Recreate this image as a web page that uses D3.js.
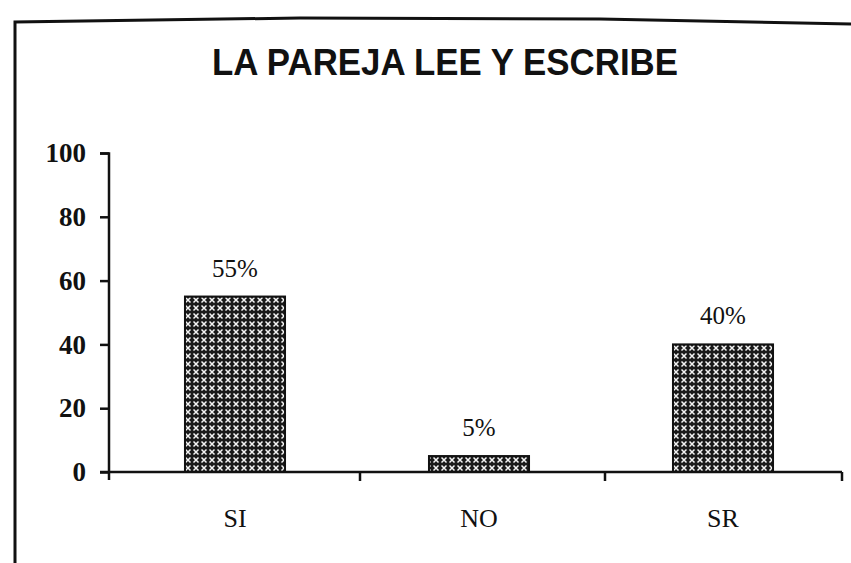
<!DOCTYPE html>
<html>
<head>
<meta charset="utf-8">
<script src="https://cdn.jsdelivr.net/npm/d3@7"></script>
<style>
  body { margin: 0; background: #fff; }
  svg { display: block; }
</style>
</head>
<body>
<script>
// Chart data
const categories = ["SI", "NO", "SR"];
const values = [55, 5, 40];
const valueLabels = ["55%", "5%", "40%"];
const yTicks = [0, 20, 40, 60, 80, 100];
const chartTitle = "LA PAREJA LEE Y ESCRIBE";

const width = 851;
const height = 563;

const svg = d3.select("body")
  .append("svg")
  .attr("width", width)
  .attr("height", height)
  .style("background", "#fff");

// pattern for bar fill: dark grid with light crosses
const defs = svg.append("defs");
const pat = defs.append("pattern")
  .attr("id", "cross")
  .attr("patternUnits", "userSpaceOnUse")
  .attr("width", 8)
  .attr("height", 8);
pat.append("rect")
  .attr("width", 8)
  .attr("height", 8)
  .attr("fill", "#1a1a1a");
pat.append("path")
  .attr("d", "M1.5,1.5 L6.5,6.5 M6.5,1.5 L1.5,6.5")
  .attr("stroke", "#f4f4f4")
  .attr("stroke-width", 1.5);

// outer frame (scan border)
svg.append("path")
  .attr("d", "M15,563 L15,22 L300,18 L600,19 L851,24")
  .attr("fill", "none")
  .attr("stroke", "#111")
  .attr("stroke-width", 3);

// title
svg.append("text")
  .attr("x", 445)
  .attr("y", 75)
  .attr("text-anchor", "middle")
  .attr("textLength", 466)
  .attr("lengthAdjust", "spacingAndGlyphs")
  .style("font-family", "'Liberation Sans Narrow', 'Liberation Sans', Arial, sans-serif")
  .style("font-weight", "bold")
  .style("font-size", "37px")
  .style("fill", "#111")
  .text(chartTitle);

// scales
const xScale = d3.scaleBand()
  .domain(categories)
  .range([113, 845])
  .paddingInner(0.59)
  .paddingOuter(0.295);

const yScale = d3.scaleLinear()
  .domain([0, 100])
  .range([472, 153]);

// y axis
const yAxis = d3.axisLeft(yScale)
  .tickValues(yTicks)
  .tickSize(9)
  .tickPadding(14);

const yG = svg.append("g")
  .attr("transform", "translate(109,0)")
  .call(yAxis);

yG.select(".domain")
  .attr("d", "M-9,153.5H0V480")
  .attr("stroke", "#111")
  .attr("stroke-width", 2.5);

yG.selectAll(".tick line")
  .attr("stroke", "#111")
  .attr("stroke-width", 2.5);

yG.selectAll(".tick text")
  .style("font-family", "'Liberation Serif', 'Times New Roman', serif")
  .style("font-weight", "bold")
  .style("font-size", "27px")
  .style("fill", "#111");

// x axis baseline with boundary ticks
const bandEdges = [109, 360, 605, 842];
svg.append("line")
  .attr("x1", 100)
  .attr("x2", 842)
  .attr("y1", yScale(0))
  .attr("y2", yScale(0))
  .attr("stroke", "#111")
  .attr("stroke-width", 2.5);

svg.selectAll(".xtick")
  .data(bandEdges.slice(1))
  .enter()
  .append("line")
  .attr("class", "xtick")
  .attr("x1", (d) => d)
  .attr("x2", (d) => d)
  .attr("y1", yScale(0))
  .attr("y2", yScale(0) + 9)
  .attr("stroke", "#111")
  .attr("stroke-width", 2.5);

// bars
svg.selectAll(".bar")
  .data(values)
  .enter()
  .append("rect")
  .attr("class", "bar")
  .attr("x", (d, i) => xScale(categories[i]))
  .attr("y", (d) => yScale(d))
  .attr("width", xScale.bandwidth())
  .attr("height", (d) => yScale(0) - yScale(d))
  .attr("fill", "url(#cross)")
  .attr("stroke", "#111")
  .attr("stroke-width", 2);

// value labels
svg.selectAll(".vlabel")
  .data(values)
  .enter()
  .append("text")
  .attr("class", "vlabel")
  .attr("x", (d, i) => xScale(categories[i]) + xScale.bandwidth() / 2)
  .attr("y", (d) => yScale(d) - 20)
  .attr("text-anchor", "middle")
  .style("font-family", "'Liberation Serif', 'Times New Roman', serif")
  .style("font-size", "25px")
  .style("fill", "#111")
  .text((d, i) => valueLabels[i]);

// category labels
svg.selectAll(".clabel")
  .data(categories)
  .enter()
  .append("text")
  .attr("class", "clabel")
  .attr("x", (d) => xScale(d) + xScale.bandwidth() / 2)
  .attr("y", 527)
  .attr("text-anchor", "middle")
  .style("font-family", "'Liberation Serif', 'Times New Roman', serif")
  .style("font-size", "26px")
  .style("fill", "#111")
  .text((d) => d);
</script>
</body>
</html>
